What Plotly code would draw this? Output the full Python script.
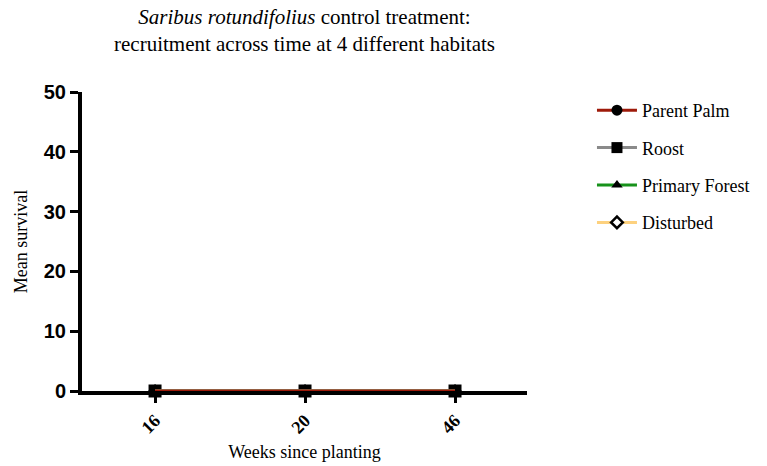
import plotly.graph_objects as go

weeks = ["16", "20", "46"]
parent_palm = [0, 0, 0]
roost = [0, 0, 0]
primary_forest = [0, 0, 0]
disturbed = [0, 0, 0]

x_pos = list(range(len(weeks)))

# name, values, line colour, marker symbol, marker fill, marker size, legend rank
series = {
    "Parent Palm": (parent_palm, "#9E1A0A", "circle", "black", 11, 1),
    "Roost": (roost, "#8A8A8A", "square", "black", 11, 2),
    "Primary Forest": (primary_forest, "#17921B", "triangle-up", "black", 10, 3),
    "Disturbed": (disturbed, "#FDD17E", "diamond", "white", 9, 4),
}

def marker_for(sym, fill, size):
    return dict(symbol=sym, color=fill, size=size,
                line=dict(color="black", width=2.5 if sym == "diamond" else 0))

fig = go.Figure()
# markers drawn first (square ends on top)
for name in ["Disturbed", "Primary Forest", "Parent Palm", "Roost"]:
    vals, col, sym, fill, size, rank = series[name]
    s = 13 if sym == "square" else size - 1
    fig.add_trace(go.Scatter(x=x_pos, y=vals, mode="markers", showlegend=False,
                             marker=marker_for(sym, fill, s), cliponaxis=False,
                             hoverinfo="skip"))
# lines drawn over markers (Parent Palm on top)
for name in ["Disturbed", "Primary Forest", "Roost", "Parent Palm"]:
    vals, col, sym, fill, size, rank = series[name]
    fig.add_trace(go.Scatter(x=x_pos, y=vals, mode="lines", showlegend=False,
                             line=dict(color=col, width=3), cliponaxis=False,
                             name=name))
# legend entries
for name, (vals, col, sym, fill, size, rank) in series.items():
    fig.add_trace(go.Scatter(x=[None], y=[None], mode="lines+markers", name=name,
                             line=dict(color=col, width=3), marker=marker_for(sym, fill, size),
                             legendrank=rank, legendgroup=name))

serif = "Liberation Serif"
fig.update_layout(
    width=767, height=466,
    margin=dict(l=82, r=240, t=92, b=75, autoexpand=False),
    plot_bgcolor="white", paper_bgcolor="white",
    annotations=[dict(
        text="<i>Saribus rotundifolius</i> control treatment:<br>recruitment across time at 4 different habitats",
        x=0.5, xref="paper", xanchor="center", y=1, yref="paper", yanchor="bottom",
        yshift=34, showarrow=False,
        font=dict(family=serif, size=21, color="black"),
    )],
    legend=dict(
        x=1.146, xref="paper", xanchor="left", y=1.0, yanchor="top",
        font=dict(family=serif, size=18, color="black"),
        tracegroupgap=11, itemwidth=40, bgcolor="rgba(0,0,0,0)",
    ),
    xaxis=dict(
        range=[-0.487, 2.48], tickvals=x_pos, ticktext=weeks,
        showline=True, linecolor="black", linewidth=4, layer="below traces",
        ticks="outside", ticklen=8, tickwidth=3, tickcolor="black",
        tickangle=-45, showgrid=False, zeroline=False, automargin=False,
        tickfont=dict(family=serif, size=18, color="black", weight="bold"),
        title=dict(text="Weeks since planting", standoff=10,
                   font=dict(family=serif, size=18, color="black")),
    ),
    yaxis=dict(
        range=[0, 50], tickvals=[0, 10, 20, 30, 40, 50],
        showline=True, linecolor="black", linewidth=4, layer="below traces",
        ticks="outside", ticklen=8, tickwidth=3, tickcolor="black",
        showgrid=False, zeroline=False, automargin=False,
        tickfont=dict(family="Liberation Sans", size=20, color="black", weight="bold"),
        title=dict(text="Mean survival", standoff=12,
                   font=dict(family=serif, size=18, color="black")),
    ),
)

fig.write_html("out.html")
